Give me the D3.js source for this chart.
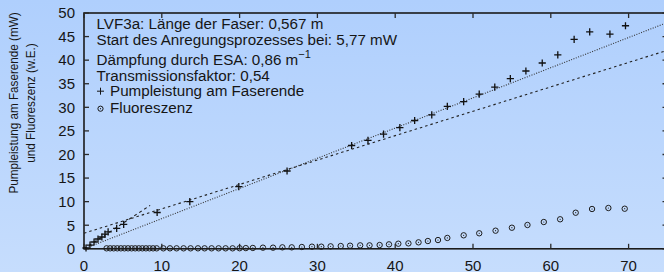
<!DOCTYPE html>
<html lang="de">
<head>
<meta charset="utf-8">
<title>LVF3a Pumpleistung und Fluoreszenz</title>
<script src="https://cdn.jsdelivr.net/npm/d3@7"></script>
<style>
  body { margin: 0; }
  text { font-family: "Liberation Sans", Arial, Helvetica, sans-serif; fill: #161616; }
</style>
</head>
<body>
<script>
// Pumpleistung am Faserende (mW) over input power
var pumpX = [0.26, 0.77, 1.29, 1.8, 2.3, 2.7, 3.1, 4.2, 5.1, 9.4, 13.6, 19.9, 26.1,
             34.4, 36.5, 38.5, 40.6, 42.5, 44.7, 46.7, 48.8, 50.8, 52.8, 54.8, 56.8,
             58.9, 60.9, 63.0, 65.0, 67.6, 69.6];
var pumpY = [0.17, 0.8, 1.44, 2.08, 2.5, 3.1, 3.6, 4.35, 5.2, 7.7, 10.0, 13.2, 16.5,
             21.9, 23.0, 24.3, 25.7, 27.2, 28.4, 30.2, 31.2, 32.8, 34.3, 36.1, 37.7,
             39.4, 41.1, 44.4, 46.0, 45.5, 47.3];

// Fluoreszenz (w.E.)
var fluoX = [2.9, 3.36, 3.82, 4.28, 4.74, 5.2, 5.66, 6.12, 6.58, 7.04, 7.5, 7.96, 8.42, 8.88, 9.34,
             10.2, 11.05, 11.9, 12.8, 13.7, 14.65, 15.5, 16.4, 17.3, 18.2, 19.1, 20.0, 20.8, 21.7,
             23.0, 24.3, 25.5, 26.7, 28.0, 29.3, 30.5, 31.7, 33.0, 34.2, 35.5, 36.7, 38.0, 39.2,
             40.4, 41.7, 43.0, 44.2, 45.5, 46.7, 48.8, 50.8, 52.9, 55.0, 57.0, 59.1, 61.2, 63.2,
             65.3, 67.4, 69.5];
var fluoY = [0.1, 0.1, 0.1, 0.1, 0.1, 0.1, 0.1, 0.1, 0.1, 0.1, 0.1, 0.1, 0.1, 0.1, 0.1,
             0.1, 0.1, 0.1, 0.1, 0.1, 0.1, 0.1, 0.1, 0.1, 0.1, 0.1, 0.12, 0.15, 0.18,
             0.24, 0.24, 0.31, 0.31, 0.38, 0.45, 0.45, 0.52, 0.59, 0.66, 0.73, 0.73, 0.8, 0.94,
             1.08, 1.15, 1.37, 1.65, 1.86, 2.3, 2.86, 3.29, 3.84, 4.47, 5.05, 5.68, 6.26, 7.65,
             8.44, 8.65, 8.5];

// fit lines, endpoints in data units
var tangentLine = [[0, 0], [8.5, 9.2]];
var linearFit = [[0, 3.3], [75, 42.1]];
var originFit = [[0, 0], [75, 48]];

var xTicks = [0, 10, 20, 30, 40, 50, 60, 70];
var yTicks = [0, 5, 10, 15, 20, 25, 30, 35, 40, 45, 50];

var legendLines = [
  "LVF3a: Länge der Faser: 0,567 m",
  "Start des Anregungsprozesses bei: 5,77 mW",
  "Dämpfung durch ESA: 0,86 m",
  "Transmissionsfaktor: 0,54",
  "Pumpleistung am Faserende",
  "Fluoreszenz"
];
var legendBase = [29.3, 45.3, 65, 81, 95.7, 112.7];

var W = 664, H = 272;
var xScale = d3.scaleLinear().domain([0, 75]).range([84, 667.5]);
var yScale = d3.scaleLinear().domain([0, 50]).range([248.8, 13]);

var svg = d3.select("body").append("svg")
  .attr("width", W).attr("height", H);

var grad = svg.append("defs").append("linearGradient")
  .attr("id", "bg").attr("x1", 0).attr("y1", 0).attr("x2", 0).attr("y2", 1);
grad.append("stop").attr("offset", "0%").attr("stop-color", "#afcffd");
grad.append("stop").attr("offset", "100%").attr("stop-color", "#c6ddfd");
svg.append("rect").attr("width", W).attr("height", H).attr("fill", "url(#bg)");

// frame
svg.append("rect")
  .attr("x", xScale(0)).attr("y", yScale(50))
  .attr("width", xScale(75) - xScale(0)).attr("height", yScale(0) - yScale(50))
  .attr("fill", "none").attr("stroke", "#1b1b1b").attr("stroke-width", 1.6);

// ticks, all pointing inward
var tl = 5;
var tickG = svg.append("g").attr("stroke", "#2a2a2a").attr("stroke-width", 1.3);
xTicks.forEach(function(t) {
  tickG.append("line").attr("x1", xScale(t)).attr("x2", xScale(t))
    .attr("y1", yScale(0)).attr("y2", yScale(0) - tl);
  tickG.append("line").attr("x1", xScale(t)).attr("x2", xScale(t))
    .attr("y1", yScale(50)).attr("y2", yScale(50) + tl);
});
yTicks.forEach(function(t) {
  tickG.append("line").attr("x1", xScale(0)).attr("x2", xScale(0) + tl)
    .attr("y1", yScale(t)).attr("y2", yScale(t));
  tickG.append("line").attr("x1", xScale(75)).attr("x2", xScale(75) - tl)
    .attr("y1", yScale(t)).attr("y2", yScale(t));
});

svg.selectAll("text.xt").data(xTicks).enter().append("text")
  .attr("class", "xt")
  .attr("x", function(d) { return xScale(d); })
  .attr("y", 270.5)
  .attr("text-anchor", "middle")
  .attr("font-size", "15px")
  .text(function(d) { return d; });

svg.selectAll("text.yt").data(yTicks).enter().append("text")
  .attr("class", "yt")
  .attr("x", 75)
  .attr("y", function(d) { return yScale(d) + 5.3; })
  .attr("text-anchor", "end")
  .attr("font-size", "15px")
  .text(function(d) { return d; });

// y axis label, two lines (glyphs a bit taller than wide, like the original)
var yl = svg.append("text")
  .attr("transform", "translate(0,103) rotate(-90) scale(1,1.15)")
  .attr("text-anchor", "middle")
  .attr("font-size", "11.7px");
yl.append("tspan").attr("x", 0).attr("y", 18 / 1.15).text("Pumpleistung am Faserende (mW)");
yl.append("tspan").attr("x", 0).attr("y", 35 / 1.15).text("und Fluoreszenz (w.E.)");

// fit lines
var line = d3.line()
  .x(function(d) { return xScale(d[0]); })
  .y(function(d) { return yScale(d[1]); });

var plot = svg.append("g");
plot.append("path").attr("d", line(tangentLine))
  .attr("fill", "none").attr("stroke", "#222").attr("stroke-width", 1.1)
  .attr("stroke-dasharray", "3,3");
plot.append("path").attr("d", line(linearFit))
  .attr("fill", "none").attr("stroke", "#222").attr("stroke-width", 1.1)
  .attr("stroke-dasharray", "2.5,3");
plot.append("path").attr("d", line(originFit))
  .attr("fill", "none").attr("stroke", "#333").attr("stroke-width", 1.1)
  .attr("stroke-dasharray", "1,1.5");

// fluorescence circles
var fluo = fluoX.map(function(x, i) { return [x, fluoY[i]]; });
var fg = plot.selectAll("g.fl").data(fluo).enter().append("g")
  .attr("class", "fl")
  .attr("transform", function(d) { return "translate(" + xScale(d[0]) + "," + yScale(d[1]) + ")"; });
fg.append("circle").attr("r", 2.7).attr("fill", "none")
  .attr("stroke", "#1e1e1e").attr("stroke-width", 1);
fg.append("circle").attr("r", 0.6).attr("fill", "#1e1e1e");

// pump crosses
var pump = pumpX.map(function(x, i) { return [x, pumpY[i]]; });
plot.selectAll("path.pu").data(pump).enter().append("path")
  .attr("class", "pu")
  .attr("d", function(d) {
    var px = xScale(d[0]), py = yScale(d[1]), s = 3.6;
    return "M" + (px - s) + "," + py + "H" + (px + s) + "M" + px + "," + (py - s) + "V" + (py + s);
  })
  .attr("stroke", "#111").attr("stroke-width", 1.3);

// legend text
var lg = svg.append("g").attr("font-size", "15.2px");
legendLines.forEach(function(s, i) {
  var xx = (i >= 4) ? 110 : 96.5;
  var t = lg.append("text").attr("x", xx).attr("y", legendBase[i]).text(s);
  if (i === 2) {
    t.append("tspan").attr("dy", -7).attr("font-size", "11px").text("−1");
  }
});
// legend symbols
lg.append("path")
  .attr("d", "M97," + (legendBase[4] - 4.5) + "H104M100.5," + (legendBase[4] - 8) + "V" + (legendBase[4] - 1))
  .attr("stroke", "#161616").attr("stroke-width", 1);
lg.append("circle").attr("cx", 100.5).attr("cy", legendBase[5] - 4).attr("r", 2.6)
  .attr("fill", "none").attr("stroke", "#161616").attr("stroke-width", 1);
lg.append("circle").attr("cx", 100.5).attr("cy", legendBase[5] - 4).attr("r", 0.6)
  .attr("fill", "#161616");
</script>
</body>
</html>
